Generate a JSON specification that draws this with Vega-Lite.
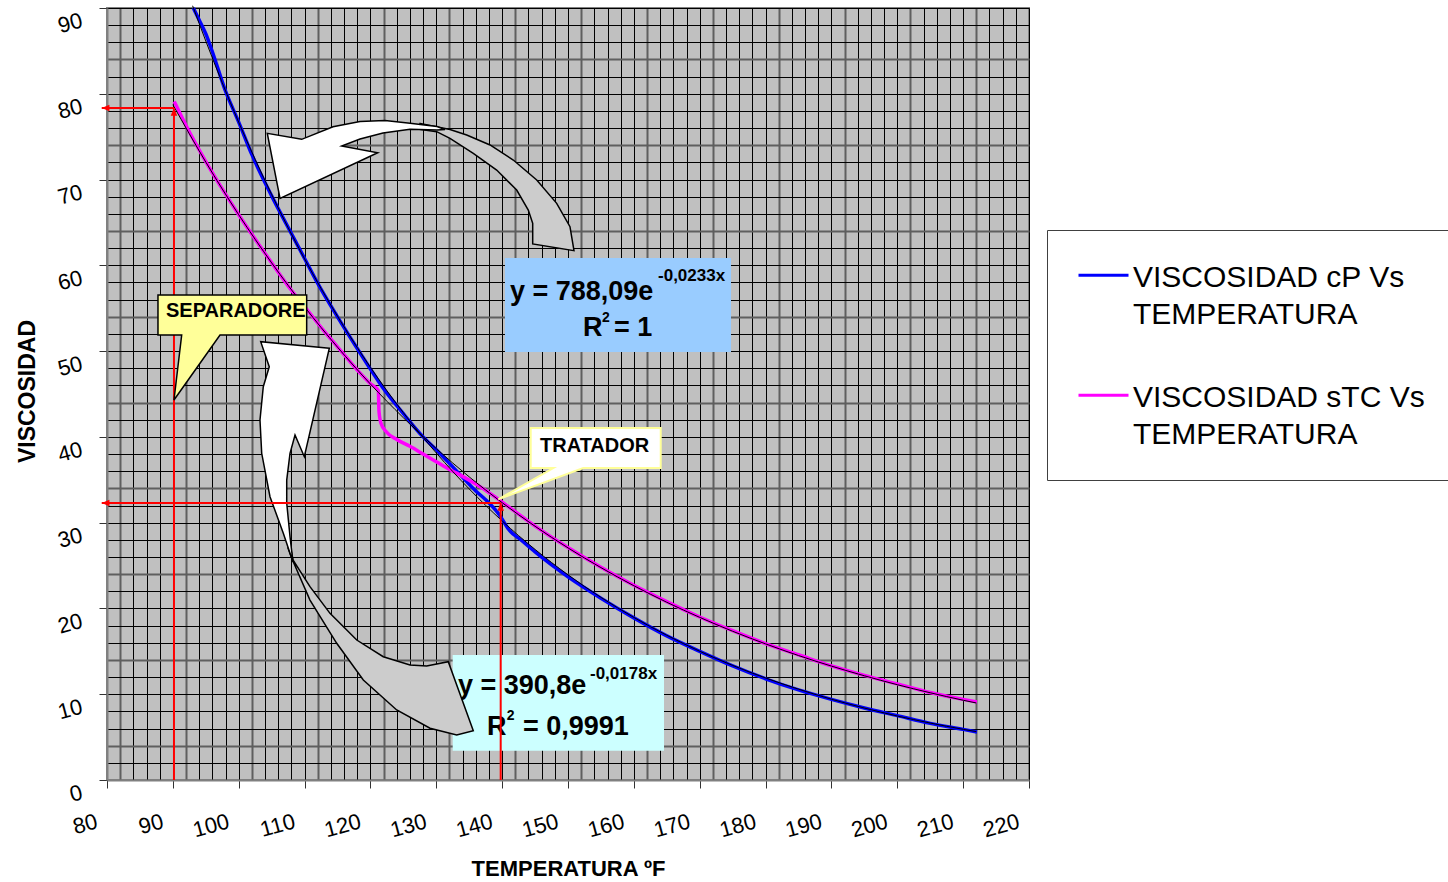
{
  "$schema": "https://vega.github.io/schema/vega-lite/v6.json",
  "width": 922,
  "height": 772,
  "autosize": {"type": "none"},
  "padding": {"left": 107, "top": 8, "right": 419, "bottom": 102},
  "background": "white",
  "config": {
    "font": "Liberation Sans",
    "view": {"fill": "#C0C0C0", "stroke": "#808080", "strokeWidth": 2},
    "style": {"guide-label": {"lineHeight": 37}}
  },
  "datasets": {
    "medidas": [
      {"serie": "VISCOSIDAD cP Vs TEMPERATURA", "temp": 93.1, "visc": 90.0},
      {"serie": "VISCOSIDAD cP Vs TEMPERATURA", "temp": 94, "visc": 88.6},
      {"serie": "VISCOSIDAD cP Vs TEMPERATURA", "temp": 95, "visc": 87.0},
      {"serie": "VISCOSIDAD cP Vs TEMPERATURA", "temp": 96, "visc": 84.9},
      {"serie": "VISCOSIDAD cP Vs TEMPERATURA", "temp": 98, "visc": 80.3},
      {"serie": "VISCOSIDAD cP Vs TEMPERATURA", "temp": 100, "visc": 76.7},
      {"serie": "VISCOSIDAD cP Vs TEMPERATURA", "temp": 102, "visc": 72.9},
      {"serie": "VISCOSIDAD cP Vs TEMPERATURA", "temp": 105, "visc": 68.1},
      {"serie": "VISCOSIDAD cP Vs TEMPERATURA", "temp": 108, "visc": 63.7},
      {"serie": "VISCOSIDAD cP Vs TEMPERATURA", "temp": 110, "visc": 60.8},
      {"serie": "VISCOSIDAD cP Vs TEMPERATURA", "temp": 112, "visc": 57.9},
      {"serie": "VISCOSIDAD cP Vs TEMPERATURA", "temp": 115, "visc": 54.0},
      {"serie": "VISCOSIDAD cP Vs TEMPERATURA", "temp": 118, "visc": 50.3},
      {"serie": "VISCOSIDAD cP Vs TEMPERATURA", "temp": 120, "visc": 47.9},
      {"serie": "VISCOSIDAD cP Vs TEMPERATURA", "temp": 122, "visc": 45.6},
      {"serie": "VISCOSIDAD cP Vs TEMPERATURA", "temp": 125, "visc": 42.7},
      {"serie": "VISCOSIDAD cP Vs TEMPERATURA", "temp": 128, "visc": 40.0},
      {"serie": "VISCOSIDAD cP Vs TEMPERATURA", "temp": 130, "visc": 38.5},
      {"serie": "VISCOSIDAD cP Vs TEMPERATURA", "temp": 133, "visc": 36.1},
      {"serie": "VISCOSIDAD cP Vs TEMPERATURA", "temp": 136, "visc": 33.7},
      {"serie": "VISCOSIDAD cP Vs TEMPERATURA", "temp": 138, "visc": 32.3},
      {"serie": "VISCOSIDAD cP Vs TEMPERATURA", "temp": 139.5, "visc": 31.0},
      {"serie": "VISCOSIDAD cP Vs TEMPERATURA", "temp": 141, "visc": 29.2},
      {"serie": "VISCOSIDAD cP Vs TEMPERATURA", "temp": 143, "visc": 27.9},
      {"serie": "VISCOSIDAD cP Vs TEMPERATURA", "temp": 145, "visc": 26.6},
      {"serie": "VISCOSIDAD cP Vs TEMPERATURA", "temp": 150, "visc": 23.7},
      {"serie": "VISCOSIDAD cP Vs TEMPERATURA", "temp": 155, "visc": 21.2},
      {"serie": "VISCOSIDAD cP Vs TEMPERATURA", "temp": 160, "visc": 18.9},
      {"serie": "VISCOSIDAD cP Vs TEMPERATURA", "temp": 165, "visc": 16.8},
      {"serie": "VISCOSIDAD cP Vs TEMPERATURA", "temp": 170, "visc": 15.0},
      {"serie": "VISCOSIDAD cP Vs TEMPERATURA", "temp": 175, "visc": 13.3},
      {"serie": "VISCOSIDAD cP Vs TEMPERATURA", "temp": 180, "visc": 11.8},
      {"serie": "VISCOSIDAD cP Vs TEMPERATURA", "temp": 185, "visc": 10.5},
      {"serie": "VISCOSIDAD cP Vs TEMPERATURA", "temp": 190, "visc": 9.4},
      {"serie": "VISCOSIDAD cP Vs TEMPERATURA", "temp": 195, "visc": 8.4},
      {"serie": "VISCOSIDAD cP Vs TEMPERATURA", "temp": 200, "visc": 7.5},
      {"serie": "VISCOSIDAD cP Vs TEMPERATURA", "temp": 205, "visc": 6.6},
      {"serie": "VISCOSIDAD cP Vs TEMPERATURA", "temp": 210, "visc": 5.9},
      {"serie": "VISCOSIDAD cP Vs TEMPERATURA", "temp": 212.1, "visc": 5.6},
      {"serie": "VISCOSIDAD sTC Vs TEMPERATURA", "temp": 90.2, "visc": 79.1},
      {"serie": "VISCOSIDAD sTC Vs TEMPERATURA", "temp": 92, "visc": 76.3},
      {"serie": "VISCOSIDAD sTC Vs TEMPERATURA", "temp": 95, "visc": 72.1},
      {"serie": "VISCOSIDAD sTC Vs TEMPERATURA", "temp": 98, "visc": 68.3},
      {"serie": "VISCOSIDAD sTC Vs TEMPERATURA", "temp": 100, "visc": 65.9},
      {"serie": "VISCOSIDAD sTC Vs TEMPERATURA", "temp": 103, "visc": 62.5},
      {"serie": "VISCOSIDAD sTC Vs TEMPERATURA", "temp": 105, "visc": 60.3},
      {"serie": "VISCOSIDAD sTC Vs TEMPERATURA", "temp": 108, "visc": 57.1},
      {"serie": "VISCOSIDAD sTC Vs TEMPERATURA", "temp": 110, "visc": 55.2},
      {"serie": "VISCOSIDAD sTC Vs TEMPERATURA", "temp": 113, "visc": 52.3},
      {"serie": "VISCOSIDAD sTC Vs TEMPERATURA", "temp": 115, "visc": 50.5},
      {"serie": "VISCOSIDAD sTC Vs TEMPERATURA", "temp": 118, "visc": 47.8},
      {"serie": "VISCOSIDAD sTC Vs TEMPERATURA", "temp": 120, "visc": 46.2},
      {"serie": "VISCOSIDAD sTC Vs TEMPERATURA", "temp": 121.2, "visc": 45.4},
      {"serie": "VISCOSIDAD sTC Vs TEMPERATURA", "temp": 121.3, "visc": 43.0},
      {"serie": "VISCOSIDAD sTC Vs TEMPERATURA", "temp": 121.6, "visc": 41.6},
      {"serie": "VISCOSIDAD sTC Vs TEMPERATURA", "temp": 122.4, "visc": 40.6},
      {"serie": "VISCOSIDAD sTC Vs TEMPERATURA", "temp": 124, "visc": 39.7},
      {"serie": "VISCOSIDAD sTC Vs TEMPERATURA", "temp": 126, "visc": 38.9},
      {"serie": "VISCOSIDAD sTC Vs TEMPERATURA", "temp": 128, "visc": 38.0},
      {"serie": "VISCOSIDAD sTC Vs TEMPERATURA", "temp": 130, "visc": 37.1},
      {"serie": "VISCOSIDAD sTC Vs TEMPERATURA", "temp": 132, "visc": 36.2},
      {"serie": "VISCOSIDAD sTC Vs TEMPERATURA", "temp": 134, "visc": 35.4},
      {"serie": "VISCOSIDAD sTC Vs TEMPERATURA", "temp": 136, "visc": 34.5},
      {"serie": "VISCOSIDAD sTC Vs TEMPERATURA", "temp": 138, "visc": 33.5},
      {"serie": "VISCOSIDAD sTC Vs TEMPERATURA", "temp": 140, "visc": 32.4},
      {"serie": "VISCOSIDAD sTC Vs TEMPERATURA", "temp": 145, "visc": 29.6},
      {"serie": "VISCOSIDAD sTC Vs TEMPERATURA", "temp": 150, "visc": 27.1},
      {"serie": "VISCOSIDAD sTC Vs TEMPERATURA", "temp": 155, "visc": 24.8},
      {"serie": "VISCOSIDAD sTC Vs TEMPERATURA", "temp": 160, "visc": 22.7},
      {"serie": "VISCOSIDAD sTC Vs TEMPERATURA", "temp": 165, "visc": 20.8},
      {"serie": "VISCOSIDAD sTC Vs TEMPERATURA", "temp": 170, "visc": 19.0},
      {"serie": "VISCOSIDAD sTC Vs TEMPERATURA", "temp": 175, "visc": 17.4},
      {"serie": "VISCOSIDAD sTC Vs TEMPERATURA", "temp": 180, "visc": 15.9},
      {"serie": "VISCOSIDAD sTC Vs TEMPERATURA", "temp": 185, "visc": 14.6},
      {"serie": "VISCOSIDAD sTC Vs TEMPERATURA", "temp": 190, "visc": 13.3},
      {"serie": "VISCOSIDAD sTC Vs TEMPERATURA", "temp": 195, "visc": 12.2},
      {"serie": "VISCOSIDAD sTC Vs TEMPERATURA", "temp": 200, "visc": 11.2},
      {"serie": "VISCOSIDAD sTC Vs TEMPERATURA", "temp": 205, "visc": 10.2},
      {"serie": "VISCOSIDAD sTC Vs TEMPERATURA", "temp": 210, "visc": 9.4},
      {"serie": "VISCOSIDAD sTC Vs TEMPERATURA", "temp": 212.1, "visc": 9.1}
    ],
    "tendencias": [
      {"serie": "cP", "temp": 93, "visc": 90.26},
      {"serie": "cP", "temp": 95, "visc": 86.15},
      {"serie": "cP", "temp": 100, "visc": 76.68},
      {"serie": "cP", "temp": 105, "visc": 68.26},
      {"serie": "cP", "temp": 110, "visc": 60.75},
      {"serie": "cP", "temp": 115, "visc": 54.07},
      {"serie": "cP", "temp": 120, "visc": 48.11},
      {"serie": "cP", "temp": 125, "visc": 42.82},
      {"serie": "cP", "temp": 130, "visc": 38.12},
      {"serie": "cP", "temp": 135, "visc": 33.93},
      {"serie": "cP", "temp": 140, "visc": 30.20},
      {"serie": "cP", "temp": 145, "visc": 26.88},
      {"serie": "cP", "temp": 150, "visc": 23.92},
      {"serie": "cP", "temp": 155, "visc": 21.29},
      {"serie": "cP", "temp": 160, "visc": 18.95},
      {"serie": "cP", "temp": 165, "visc": 16.87},
      {"serie": "cP", "temp": 170, "visc": 15.01},
      {"serie": "cP", "temp": 175, "visc": 13.36},
      {"serie": "cP", "temp": 180, "visc": 11.89},
      {"serie": "cP", "temp": 185, "visc": 10.59},
      {"serie": "cP", "temp": 190, "visc": 9.42},
      {"serie": "cP", "temp": 195, "visc": 8.39},
      {"serie": "cP", "temp": 200, "visc": 7.46},
      {"serie": "cP", "temp": 205, "visc": 6.64},
      {"serie": "cP", "temp": 210, "visc": 5.91},
      {"serie": "cP", "temp": 212, "visc": 5.64},
      {"serie": "sTC", "temp": 90, "visc": 78.73},
      {"serie": "sTC", "temp": 95, "visc": 72.04},
      {"serie": "sTC", "temp": 100, "visc": 65.90},
      {"serie": "sTC", "temp": 105, "visc": 60.29},
      {"serie": "sTC", "temp": 110, "visc": 55.16},
      {"serie": "sTC", "temp": 115, "visc": 50.46},
      {"serie": "sTC", "temp": 120, "visc": 46.16},
      {"serie": "sTC", "temp": 125, "visc": 42.23},
      {"serie": "sTC", "temp": 130, "visc": 38.63},
      {"serie": "sTC", "temp": 135, "visc": 35.34},
      {"serie": "sTC", "temp": 140, "visc": 32.33},
      {"serie": "sTC", "temp": 145, "visc": 29.58},
      {"serie": "sTC", "temp": 150, "visc": 27.06},
      {"serie": "sTC", "temp": 155, "visc": 24.76},
      {"serie": "sTC", "temp": 160, "visc": 22.65},
      {"serie": "sTC", "temp": 165, "visc": 20.72},
      {"serie": "sTC", "temp": 170, "visc": 18.96},
      {"serie": "sTC", "temp": 175, "visc": 17.34},
      {"serie": "sTC", "temp": 180, "visc": 15.87},
      {"serie": "sTC", "temp": 185, "visc": 14.51},
      {"serie": "sTC", "temp": 190, "visc": 13.28},
      {"serie": "sTC", "temp": 195, "visc": 12.15},
      {"serie": "sTC", "temp": 200, "visc": 11.11},
      {"serie": "sTC", "temp": 205, "visc": 10.17},
      {"serie": "sTC", "temp": 210, "visc": 9.30},
      {"serie": "sTC", "temp": 212, "visc": 8.98}
    ],
    "recuadros": [
      {"ajuste": "cP", "temp": 140.43, "temp2": 174.75, "visc": 49.90, "visc2": 60.85},
      {"ajuste": "sTC", "temp": 132.49, "temp2": 164.58, "visc": 3.42, "visc2": 14.57}
    ],
    "rotulos": [
      {"grupo": "ecuacion", "temp": 141.19, "visc": 55.96, "texto": "y = 788,09e"},
      {"grupo": "ecuacion", "temp": 152.28, "visc": 51.76, "texto": "R"},
      {"grupo": "ecuacion", "temp": 156.99, "visc": 51.76, "texto": "= 1"},
      {"grupo": "ecuacion", "temp": 133.30, "visc": 10.03, "texto": "y = 390,8e"},
      {"grupo": "ecuacion", "temp": 137.70, "visc": 5.25, "texto": "R"},
      {"grupo": "ecuacion", "temp": 143.17, "visc": 5.25, "texto": "= 0,9991"},
      {"grupo": "exponente", "temp": 163.67, "visc": 58.17, "texto": "-0,0233x"},
      {"grupo": "exponente", "temp": 153.34, "visc": 11.77, "texto": "-0,0178x"},
      {"grupo": "indice", "temp": 155.16, "visc": 53.40, "texto": "2"},
      {"grupo": "indice", "temp": 140.69, "visc": 6.99, "texto": "2"},
      {"grupo": "llamada", "temp": 88.96, "visc": 53.98, "texto": "SEPARADORE"},
      {"grupo": "llamada", "temp": 145.75, "visc": 38.24, "texto": "TRATADOR"}
    ],
    "flechas": [
      {"flecha": "arriba", "cara": "clara", "i": 1, "temp": 106.27, "visc": 67.81},
      {"flecha": "arriba", "cara": "clara", "i": 2, "temp": 104.34, "visc": 75.39},
      {"flecha": "arriba", "cara": "clara", "i": 3, "temp": 109.56, "visc": 74.69},
      {"flecha": "arriba", "cara": "clara", "i": 4, "temp": 114.32, "visc": 76.16},
      {"flecha": "arriba", "cara": "clara", "i": 5, "temp": 118.42, "visc": 76.77},
      {"flecha": "arriba", "cara": "clara", "i": 6, "temp": 122.21, "visc": 76.88},
      {"flecha": "arriba", "cara": "clara", "i": 7, "temp": 126.01, "visc": 76.56},
      {"flecha": "arriba", "cara": "clara", "i": 8, "temp": 130.11, "visc": 76.18},
      {"flecha": "arriba", "cara": "clara", "i": 9, "temp": 131.32, "visc": 75.84},
      {"flecha": "arriba", "cara": "clara", "i": 10, "temp": 130.11, "visc": 75.78},
      {"flecha": "arriba", "cara": "clara", "i": 11, "temp": 126.01, "visc": 75.86},
      {"flecha": "arriba", "cara": "clara", "i": 12, "temp": 121.91, "visc": 75.43},
      {"flecha": "arriba", "cara": "clara", "i": 13, "temp": 118.42, "visc": 74.73},
      {"flecha": "arriba", "cara": "clara", "i": 14, "temp": 115.64, "visc": 73.91},
      {"flecha": "arriba", "cara": "clara", "i": 15, "temp": 121.10, "visc": 73.13},
      {"flecha": "arriba", "cara": "sombra", "i": 1, "temp": 127.53, "visc": 76.53},
      {"flecha": "arriba", "cara": "sombra", "i": 2, "temp": 132.08, "visc": 75.84},
      {"flecha": "arriba", "cara": "sombra", "i": 3, "temp": 134.62, "visc": 75.19},
      {"flecha": "arriba", "cara": "sombra", "i": 4, "temp": 138.16, "visc": 74.03},
      {"flecha": "arriba", "cara": "sombra", "i": 5, "temp": 141.69, "visc": 72.28},
      {"flecha": "arriba", "cara": "sombra", "i": 6, "temp": 145.25, "visc": 69.95},
      {"flecha": "arriba", "cara": "sombra", "i": 7, "temp": 148.28, "visc": 67.23},
      {"flecha": "arriba", "cara": "sombra", "i": 8, "temp": 150.30, "visc": 64.50},
      {"flecha": "arriba", "cara": "sombra", "i": 9, "temp": 150.91, "visc": 61.71},
      {"flecha": "arriba", "cara": "sombra", "i": 10, "temp": 144.64, "visc": 62.49},
      {"flecha": "arriba", "cara": "sombra", "i": 11, "temp": 144.64, "visc": 64.90},
      {"flecha": "arriba", "cara": "sombra", "i": 12, "temp": 143.97, "visc": 66.45},
      {"flecha": "arriba", "cara": "sombra", "i": 13, "temp": 142.21, "visc": 68.78},
      {"flecha": "arriba", "cara": "sombra", "i": 14, "temp": 139.17, "visc": 71.11},
      {"flecha": "arriba", "cara": "sombra", "i": 15, "temp": 135.62, "visc": 73.06},
      {"flecha": "arriba", "cara": "sombra", "i": 16, "temp": 132.08, "visc": 74.81},
      {"flecha": "arriba", "cara": "sombra", "i": 17, "temp": 130.06, "visc": 75.58},
      {"flecha": "arriba", "cara": "sombra", "i": 18, "temp": 127.53, "visc": 75.84},
      {"flecha": "abajo", "cara": "clara", "i": 1, "temp": 113.76, "visc": 50.33},
      {"flecha": "abajo", "cara": "clara", "i": 2, "temp": 103.34, "visc": 51.10},
      {"flecha": "abajo", "cara": "clara", "i": 3, "temp": 104.64, "visc": 48.18},
      {"flecha": "abajo", "cara": "clara", "i": 4, "temp": 103.73, "visc": 45.85},
      {"flecha": "abajo", "cara": "clara", "i": 5, "temp": 103.23, "visc": 41.97},
      {"flecha": "abajo", "cara": "clara", "i": 6, "temp": 103.49, "visc": 38.09},
      {"flecha": "abajo", "cara": "clara", "i": 7, "temp": 104.75, "visc": 33.03},
      {"flecha": "abajo", "cara": "clara", "i": 8, "temp": 106.77, "visc": 28.76},
      {"flecha": "abajo", "cara": "clara", "i": 9, "temp": 108.24, "visc": 25.41},
      {"flecha": "abajo", "cara": "clara", "i": 10, "temp": 107.79, "visc": 28.36},
      {"flecha": "abajo", "cara": "clara", "i": 11, "temp": 107.29, "visc": 32.29},
      {"flecha": "abajo", "cara": "clara", "i": 12, "temp": 107.29, "visc": 34.97},
      {"flecha": "abajo", "cara": "clara", "i": 13, "temp": 107.79, "visc": 38.09},
      {"flecha": "abajo", "cara": "clara", "i": 14, "temp": 108.55, "visc": 40.22},
      {"flecha": "abajo", "cara": "clara", "i": 15, "temp": 109.96, "visc": 37.69},
      {"flecha": "abajo", "cara": "sombra", "i": 1, "temp": 107.48, "visc": 27.05},
      {"flecha": "abajo", "cara": "sombra", "i": 2, "temp": 108.05, "visc": 25.85},
      {"flecha": "abajo", "cara": "sombra", "i": 3, "temp": 110.82, "visc": 20.98},
      {"flecha": "abajo", "cara": "sombra", "i": 4, "temp": 114.88, "visc": 15.94},
      {"flecha": "abajo", "cara": "sombra", "i": 5, "temp": 118.92, "visc": 11.66},
      {"flecha": "abajo", "cara": "sombra", "i": 6, "temp": 123.99, "visc": 8.16},
      {"flecha": "abajo", "cara": "sombra", "i": 7, "temp": 129.05, "visc": 6.03},
      {"flecha": "abajo", "cara": "sombra", "i": 8, "temp": 133.10, "visc": 5.25},
      {"flecha": "abajo", "cara": "sombra", "i": 9, "temp": 135.62, "visc": 5.75},
      {"flecha": "abajo", "cara": "sombra", "i": 10, "temp": 131.82, "visc": 13.79},
      {"flecha": "abajo", "cara": "sombra", "i": 11, "temp": 128.54, "visc": 13.29},
      {"flecha": "abajo", "cara": "sombra", "i": 12, "temp": 126.01, "visc": 13.41},
      {"flecha": "abajo", "cara": "sombra", "i": 13, "temp": 121.95, "visc": 14.37},
      {"flecha": "abajo", "cara": "sombra", "i": 14, "temp": 117.92, "visc": 16.32},
      {"flecha": "abajo", "cara": "sombra", "i": 15, "temp": 113.86, "visc": 19.43},
      {"flecha": "abajo", "cara": "sombra", "i": 16, "temp": 110.82, "visc": 22.54},
      {"flecha": "abajo", "cara": "sombra", "i": 17, "temp": 108.24, "visc": 25.65},
      {"flecha": "abajo", "cara": "sombra", "i": 18, "temp": 107.79, "visc": 27.40}
    ],
    "guias": [
      {"etapa": "SEPARADORES", "temp": 90.17, "visc": 78.34, "eje": 79.2},
      {"etapa": "TRATADOR", "temp": 139.78, "visc": 32.29, "eje": 79.2}
    ],
    "lecturas": [
      {"etapa": "SEPARADORES", "temp": 79.2, "visc": 78.34},
      {"etapa": "TRATADOR", "temp": 79.2, "visc": 32.29}
    ],
    "llamadas": [
      {"etapa": "SEPARADORES", "i": 1, "temp": 87.74, "visc": 56.54},
      {"etapa": "SEPARADORES", "i": 2, "temp": 110.32, "visc": 56.54},
      {"etapa": "SEPARADORES", "i": 3, "temp": 110.32, "visc": 51.88},
      {"etapa": "SEPARADORES", "i": 4, "temp": 97.16, "visc": 51.88},
      {"etapa": "SEPARADORES", "i": 5, "temp": 90.17, "visc": 44.30},
      {"etapa": "SEPARADORES", "i": 6, "temp": 91.34, "visc": 51.88},
      {"etapa": "SEPARADORES", "i": 7, "temp": 87.74, "visc": 51.88},
      {"etapa": "TRATADOR", "i": 1, "temp": 144.34, "visc": 41.04},
      {"etapa": "TRATADOR", "i": 2, "temp": 164.08, "visc": 41.04},
      {"etapa": "TRATADOR", "i": 3, "temp": 164.08, "visc": 36.37},
      {"etapa": "TRATADOR", "i": 4, "temp": 152.32, "visc": 36.37},
      {"etapa": "TRATADOR", "i": 5, "temp": 139.42, "visc": 32.72},
      {"etapa": "TRATADOR", "i": 6, "temp": 147.77, "visc": 36.37},
      {"etapa": "TRATADOR", "i": 7, "temp": 144.34, "visc": 36.37}
    ]
  },
  "encoding": {
    "x": {
      "field": "temp",
      "type": "quantitative",
      "scale": {"domain": [80, 220], "nice": false, "zero": false},
      "axis": {
        "values": [80,82,84,86,88,90,92,94,96,98,100,102,104,106,108,110,112,114,116,118,120,122,124,126,128,130,132,134,136,138,140,142,144,146,148,150,152,154,156,158,160,162,164,166,168,170,172,174,176,178,180,182,184,186,188,190,192,194,196,198,200,202,204,206,208,210,212,214,216,218,220],
        "title": "TEMPERATURA ºF",
        "titleFont": "Liberation Sans",
        "titleFontSize": 22,
        "titleFontWeight": "bold",
        "titleColor": "#000000",
        "titleBaseline": "alphabetic",
        "titleY": 95,
        "labelExpr": "datum.value % 10 === 0 ? datum.label : ''",
        "labelFont": "Liberation Sans",
        "labelFontSize": 22,
        "labelColor": "#000000",
        "labelAngle": -15,
        "labelAlign": "right",
        "labelBaseline": "top",
        "labelPadding": 23,
        "labelOffset": -13,
        "labelOverlap": false,
        "labelBound": false,
        "labelFlush": false,
        "tickSize": 8,
        "tickColor": "#333333",
        "tickOpacity": {"condition": {"test": "datum.value % 10 === 0", "value": 1}, "value": 0},
        "grid": true,
        "gridColor": {"condition": {"test": "(datum.value - 2) % 10 === 0", "value": "#5f5f5f"}, "value": "#000000"},
        "gridWidth": {"condition": {"test": "(datum.value - 2) % 10 === 0", "value": 2}, "value": 1},
        "domainColor": "#808080",
        "domainWidth": 2
      }
    },
    "y": {
      "field": "visc",
      "type": "quantitative",
      "scale": {"domain": [0, 90], "nice": false, "zero": false},
      "axis": {
        "values": [0,2,4,6,8,10,12,14,16,18,20,22,24,26,28,30,32,34,36,38,40,42,44,46,48,50,52,54,56,58,60,62,64,66,68,70,72,74,76,78,80,82,84,86,88,90],
        "title": "VISCOSIDAD",
        "titleFont": "Liberation Sans",
        "titleFontSize": 23,
        "titleFontWeight": "bold",
        "titleColor": "#000000",
        "titleAngle": -90,
        "titleAlign": "center",
        "titleBaseline": "alphabetic",
        "titleX": -73,
        "titleY": 383,
        "labelExpr": "datum.value % 10 === 0 ? datum.label : ''",
        "labelFont": "Liberation Sans",
        "labelFontSize": 22,
        "labelColor": "#000000",
        "labelAngle": -15,
        "labelAlign": "right",
        "labelBaseline": "top",
        "labelPadding": 20,
        "labelOffset": 2,
        "labelOverlap": false,
        "labelBound": false,
        "labelFlush": false,
        "tickSize": 8,
        "tickColor": "#333333",
        "tickOpacity": {"condition": {"test": "datum.value % 10 === 0", "value": 1}, "value": 0},
        "grid": true,
        "gridColor": {"condition": {"test": "(datum.value - 4) % 10 === 0", "value": "#5f5f5f"}, "value": "#000000"},
        "gridWidth": {"condition": {"test": "(datum.value - 4) % 10 === 0", "value": 2}, "value": 1},
        "domainColor": "#808080",
        "domainWidth": 2
      }
    }
  },
  "layer": [
    {
      "data": {"name": "medidas"},
      "mark": {"type": "line", "interpolate": "monotone", "strokeWidth": 3.5},
      "encoding": {
        "color": {
          "field": "serie",
          "type": "nominal",
          "scale": {
            "domain": ["VISCOSIDAD cP Vs TEMPERATURA", "VISCOSIDAD sTC Vs TEMPERATURA"],
            "range": ["#0000FF", "#FF00FF"]
          },
          "legend": {
            "orient": "none",
            "legendX": 940,
            "legendY": 222,
            "title": null,
            "labelFont": "Liberation Sans",
            "labelFontSize": 30,
            "labelColor": "#000000",
            "labelExpr": "[slice(datum.label, 0, indexof(datum.label, ' TEMPERATURA')), 'TEMPERATURA']",
            "labelBaseline": "alphabetic",
            "labelLimit": 0,
            "labelOffset": 3,
            "symbolType": "M-1,-0.45L1,-0.45",
            "symbolSize": 2500,
            "symbolStrokeWidth": 3,
            "padding": 30,
            "rowPadding": 50,
            "strokeColor": "#404040",
            "fillColor": "#FFFFFF"
          }
        }
      }
    },
    {
      "data": {"name": "tendencias"},
      "mark": {"type": "line", "interpolate": "monotone", "strokeWidth": 1, "color": "#000000"},
      "encoding": {"detail": {"field": "serie"}}
    },
    {
      "data": {"name": "recuadros"},
      "transform": [{"filter": "datum.ajuste == 'cP'"}],
      "mark": {"type": "rect", "color": "#99CCFF"},
      "encoding": {"x2": {"field": "temp2"}, "y2": {"field": "visc2"}}
    },
    {
      "data": {"name": "recuadros"},
      "transform": [{"filter": "datum.ajuste == 'sTC'"}],
      "mark": {"type": "rect", "color": "#CCFFFF"},
      "encoding": {"x2": {"field": "temp2"}, "y2": {"field": "visc2"}}
    },
    {
      "data": {"name": "rotulos"},
      "transform": [{"filter": "datum.grupo == 'ecuacion'"}],
      "mark": {"type": "text", "align": "left", "baseline": "alphabetic", "fontSize": 27, "fontWeight": "bold", "color": "#000000"},
      "encoding": {"text": {"field": "texto"}}
    },
    {
      "data": {"name": "rotulos"},
      "transform": [{"filter": "datum.grupo == 'exponente'"}],
      "mark": {"type": "text", "align": "left", "baseline": "alphabetic", "fontSize": 17, "fontWeight": "bold", "color": "#000000"},
      "encoding": {"text": {"field": "texto"}}
    },
    {
      "data": {"name": "rotulos"},
      "transform": [{"filter": "datum.grupo == 'indice'"}],
      "mark": {"type": "text", "align": "left", "baseline": "alphabetic", "fontSize": 14, "fontWeight": "bold", "color": "#000000"},
      "encoding": {"text": {"field": "texto"}}
    },
    {
      "data": {"name": "flechas"},
      "transform": [{"filter": "datum.cara == 'sombra'"}],
      "mark": {"type": "line", "interpolate": "linear-closed", "filled": true, "fill": "#CCCCCC", "stroke": "#000000", "strokeWidth": 1.5},
      "encoding": {"detail": {"field": "flecha"}, "order": {"field": "i", "type": "quantitative"}}
    },
    {
      "data": {"name": "flechas"},
      "transform": [{"filter": "datum.cara == 'clara'"}],
      "mark": {"type": "line", "interpolate": "linear-closed", "filled": true, "fill": "#FFFFFF", "stroke": "#000000", "strokeWidth": 1.5},
      "encoding": {"detail": {"field": "flecha"}, "order": {"field": "i", "type": "quantitative"}}
    },
    {
      "data": {"name": "guias"},
      "mark": {"type": "rule", "color": "#FF0000", "strokeWidth": 2},
      "encoding": {"y2": {"datum": 0}}
    },
    {
      "data": {"name": "guias"},
      "mark": {"type": "rule", "color": "#FF0000", "strokeWidth": 2},
      "encoding": {"x2": {"field": "eje"}}
    },
    {
      "data": {"name": "guias"},
      "mark": {"type": "point", "shape": "M0,0L-0.6,1.4L0.6,1.4Z", "filled": true, "color": "#FF0000", "size": 121, "opacity": 1, "strokeWidth": 0}
    },
    {
      "data": {"name": "lecturas"},
      "mark": {"type": "point", "shape": "M0,0L1.4,-0.6L1.4,0.6Z", "filled": true, "color": "#FF0000", "size": 121, "opacity": 1, "strokeWidth": 0}
    },
    {
      "data": {"name": "llamadas"},
      "transform": [{"filter": "datum.etapa == 'SEPARADORES'"}],
      "mark": {"type": "line", "interpolate": "linear-closed", "filled": true, "fill": "#FFFF99", "stroke": "#000000", "strokeWidth": 1.5},
      "encoding": {"detail": {"field": "etapa"}, "order": {"field": "i", "type": "quantitative"}}
    },
    {
      "data": {"name": "llamadas"},
      "transform": [{"filter": "datum.etapa == 'TRATADOR'"}],
      "mark": {"type": "line", "interpolate": "linear-closed", "filled": true, "fill": "#FFFFFF", "stroke": "#FFFF99", "strokeWidth": 2},
      "encoding": {"detail": {"field": "etapa"}, "order": {"field": "i", "type": "quantitative"}}
    },
    {
      "data": {"name": "rotulos"},
      "transform": [{"filter": "datum.grupo == 'llamada'"}],
      "mark": {"type": "text", "align": "left", "baseline": "alphabetic", "fontSize": 20, "fontWeight": "bold", "color": "#000000"},
      "encoding": {"text": {"field": "texto"}}
    }
  ]
}
